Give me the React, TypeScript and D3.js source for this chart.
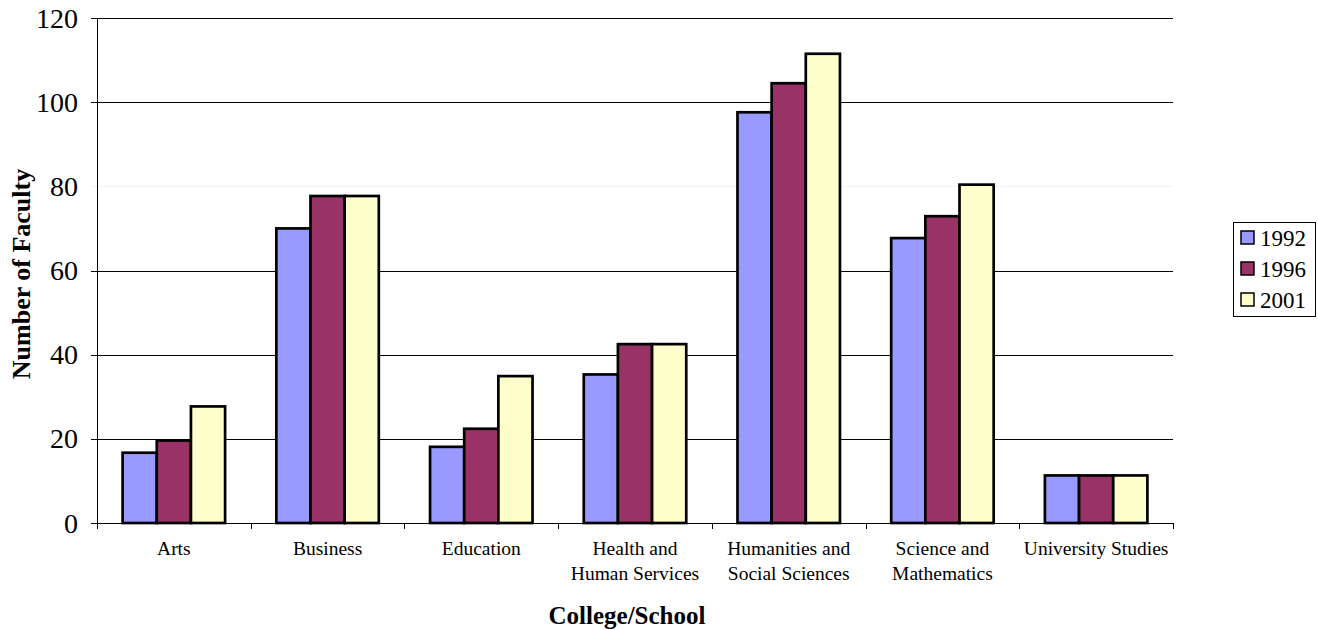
import React from "react";
import * as d3 from "d3";

const categories: string[][] = [
  ["Arts"],
  ["Business"],
  ["Education"],
  ["Health and", "Human Services"],
  ["Humanities and", "Social Sciences"],
  ["Science and", "Mathematics"],
  ["University Studies"],
];
const seriesNames = ["1992", "1996", "2001"];
const values1992 = [16.7, 70.0, 18.1, 35.3, 97.6, 67.7, 11.3];
const values1996 = [19.6, 77.7, 22.4, 42.5, 104.5, 72.9, 11.3];
const values2001 = [27.7, 77.7, 34.9, 42.5, 111.5, 80.4, 11.3];
const seriesValues = [values1992, values1996, values2001];
const colors = ["#9999FF", "#993366", "#FFFFCC"];
const yTicks = [0, 20, 40, 60, 80, 100, 120];

const W = 1318;
const H = 630;
const left = 97;
const right = 1173;
const top = 18;
const bottom = 523;
const font = "Liberation Serif, Times New Roman, serif";

export default function App() {
  const keys = categories.map((c) => c.join(" "));
  const x0 = d3.scaleBand<string>().domain(keys).range([left, right]).paddingInner(0).paddingOuter(0);
  const x1 = d3.scaleBand<string>().domain(seriesNames).range([0, x0.bandwidth()]).paddingInner(0).paddingOuter(0.75);
  const y = d3.scaleLinear().domain([0, 120]).range([bottom, top]);
  const boundaries = keys.map((k) => x0(k)!).concat([right]);
  const ts = { fontFamily: font };

  return (
    <div style={{ position: "fixed", left: 0, top: 0 }}>
      <svg width={W} height={H} style={{ display: "block", background: "#fff", fontFamily: font }}>
        {yTicks.filter((t) => t > 0).map((t) => (
          <line key={"g" + t} x1={left} x2={right} y1={Math.round(y(t)) + 0.5} y2={Math.round(y(t)) + 0.5}
            stroke={t === 80 ? "#f3f3f3" : "#000"} strokeWidth={1} />
        ))}
        {yTicks.map((t) => (
          <g key={"t" + t}>
            <line x1={left - 6} x2={left} y1={Math.round(y(t)) + 0.5} y2={Math.round(y(t)) + 0.5}
              stroke={t === 80 ? "#f3f3f3" : "#000"} strokeWidth={1} />
            <text style={ts} x={78} y={y(t)} dy="0.34em" textAnchor="end" fontSize={28} fill="#000">{t}</text>
          </g>
        ))}
        {seriesValues.map((vals, si) => (
          <g key={"s" + si}>
            {vals.map((v, ci) => (
              <rect key={ci}
                x={x0(keys[ci])! + x1(seriesNames[si])!}
                y={y(v)}
                width={x1.bandwidth()}
                height={bottom - y(v)}
                fill={colors[si]}
                stroke="#000"
                strokeWidth={2.7} />
            ))}
          </g>
        ))}
        <line x1={left + 0.5} x2={left + 0.5} y1={top} y2={bottom} stroke="#000" strokeWidth={1} />
        <line x1={left - 6} x2={right} y1={bottom + 0.5} y2={bottom + 0.5} stroke="#000" strokeWidth={1} />
        {boundaries.map((b, i) => (
          <line key={"xt" + i} x1={Math.round(b) + 0.5} x2={Math.round(b) + 0.5} y1={bottom} y2={bottom + 6} stroke="#000" strokeWidth={1} />
        ))}
        {categories.map((lines, ci) => (
          <text style={ts} key={"c" + ci} x={x0(keys[ci])! + x0.bandwidth() / 2} y={555} textAnchor="middle" fontSize={19.5} fill="#000">
            {lines.map((ln, li) => (
              <tspan key={li} x={x0(keys[ci])! + x0.bandwidth() / 2} y={555 + li * 25}>{ln}</tspan>
            ))}
          </text>
        ))}
        <text style={ts} x={627} y={624} textAnchor="middle" fontSize={25} fontWeight="bold" fill="#000">College/School</text>
        <text style={ts} transform="translate(30,274) rotate(-90)" textAnchor="middle" fontSize={26} fontWeight="bold" fill="#000">Number of Faculty</text>
        <rect x={1233.5} y={222.5} width={82} height={94} fill="#fff" stroke="#000" strokeWidth={1} />
        {seriesNames.map((s, i) => (
          <g key={"l" + i}>
            <rect x={1241} y={231 + i * 31} width={13} height={13} fill={colors[i]} stroke="#000" strokeWidth={1.5} />
            <text style={ts} x={1260} y={238 + i * 31} dy="0.35em" fontSize={23} fill="#000">{s}</text>
          </g>
        ))}
      </svg>
    </div>
  );
}
